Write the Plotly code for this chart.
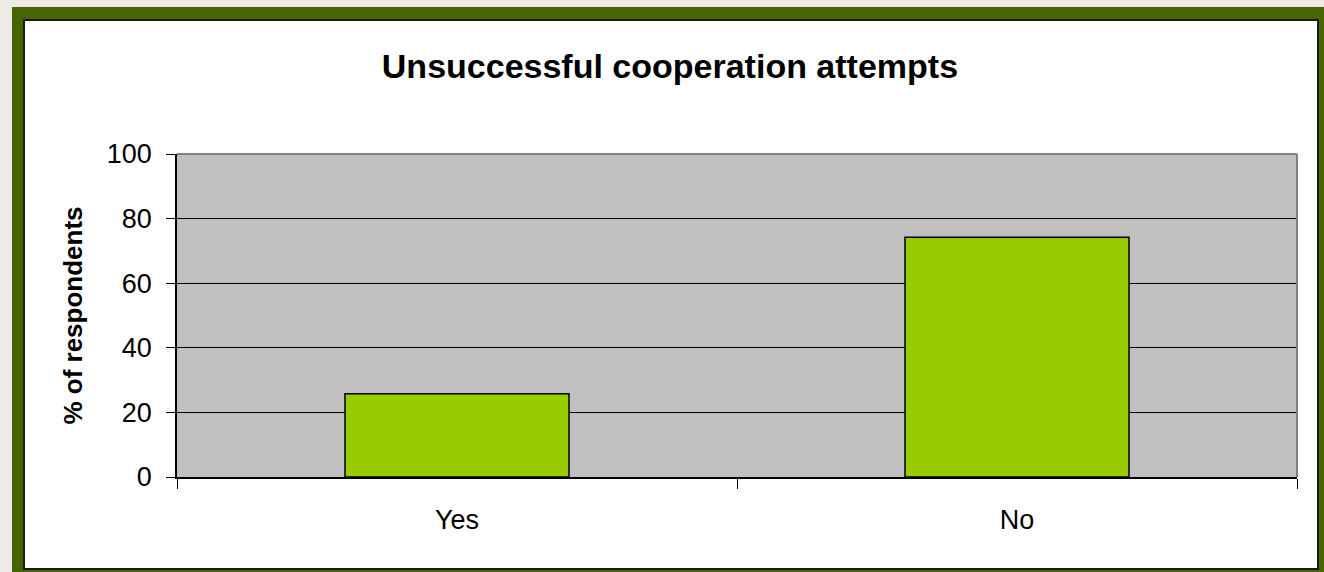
import plotly.graph_objects as go

# Survey data
categories = ["Yes", "No"]
percent_respondents = [25.8, 74.2]
y_ticks = [0, 20, 40, 60, 80, 100]

TITLE = "Unsuccessful cooperation attempts"
Y_TITLE = "% of respondents"

FONT = "Arial, Liberation Sans, sans-serif"
FRAME_GREEN = "#476500"
OUTER_GRAY = "#EEEBE6"
BAR_GREEN = "#99CC00"
PLOT_GRAY = "#C0C0C0"

W, H = 1324, 572
M_L, M_R, M_T, M_B = 177, 27, 154, 95
PW, PH = W - M_L - M_R, H - M_T - M_B


def px_x(px):
    return (px - M_L) / PW


def px_y(py):
    return (H - M_B - py) / PH


fig = go.Figure(
    go.Bar(
        x=categories,
        y=percent_respondents,
        marker=dict(color=BAR_GREEN, line=dict(color="#000000", width=1.5)),
        hoverinfo="x+y",
    )
)

shapes = [
    # green frame
    dict(type="rect", xref="paper", yref="paper", layer="below",
         x0=px_x(12), x1=px_x(W + 5), y0=px_y(H + 5), y1=px_y(7),
         fillcolor=FRAME_GREEN, line=dict(width=0)),
    # white chart panel
    dict(type="rect", xref="paper", yref="paper", layer="below",
         x0=px_x(24), x1=px_x(1318), y0=px_y(569), y1=px_y(20),
         fillcolor="#FFFFFF", line=dict(color="#1A1A1A", width=2)),
    # plot area
    dict(type="rect", xref="paper", yref="paper", layer="below",
         x0=0, x1=1, y0=0, y1=1,
         fillcolor=PLOT_GRAY, line=dict(width=0)),
    # gray border top and right
    dict(type="line", xref="paper", yref="paper", layer="above",
         x0=0, x1=1, y0=1, y1=1, line=dict(color="#808080", width=2)),
    dict(type="line", xref="paper", yref="paper", layer="above",
         x0=1, x1=1, y0=0, y1=1, line=dict(color="#808080", width=2)),
]

fig.update_layout(
    width=W,
    height=H,
    margin=dict(l=M_L, r=M_R, t=M_T, b=M_B),
    paper_bgcolor=OUTER_GRAY,
    plot_bgcolor="rgba(0,0,0,0)",
    font=dict(family=FONT, color="#000000", size=27),
    bargap=0.6,
    showlegend=False,
    shapes=shapes,
    title=dict(
        text="<b>" + TITLE + "</b>",
        x=0.506, xanchor="center",
        y=1 - 66 / H, yanchor="middle", yref="container",
        font=dict(size=34, family=FONT, color="#000000"),
    ),
)

fig.update_xaxes(
    showline=True, linecolor="#000000", linewidth=1.5,
    ticks="outside", tickson="boundaries", ticklen=10, tickcolor="#000000",
    tickfont=dict(size=27), ticklabelstandoff=18,
    showgrid=False,
)

fig.update_yaxes(
    range=[0, 100], tickvals=y_ticks,
    showline=True, linecolor="#000000", linewidth=1.5,
    ticks="outside", ticklen=9, tickcolor="#000000",
    tickfont=dict(size=27), ticklabelstandoff=9,
    showgrid=True, gridcolor="#000000", gridwidth=1,
    zeroline=False,
    title=dict(text="<b>" + Y_TITLE + "</b>", font=dict(size=26), standoff=17),
)

fig.write_html(
    "out.html",
    config={"displayModeBar": False},
    post_script="document.body.style.margin='0';",
)
